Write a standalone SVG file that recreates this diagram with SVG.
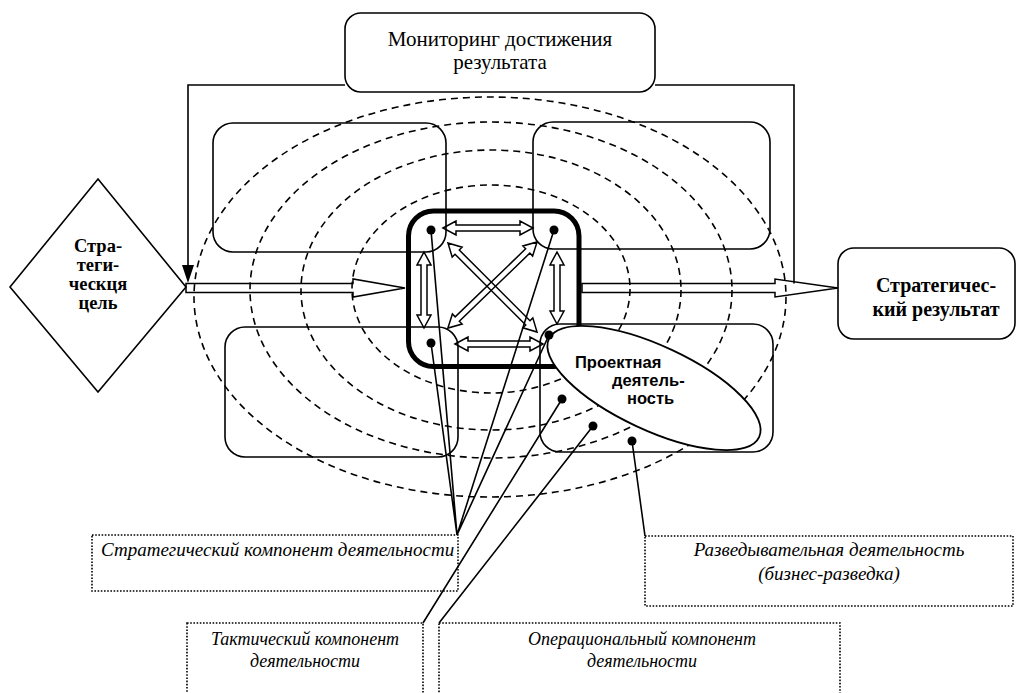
<svg xmlns="http://www.w3.org/2000/svg" width="1019" height="693" viewBox="0 0 1019 693">
<style>
.box{fill:none;stroke:#000;stroke-width:1.6}
.wbox{fill:#fff;stroke:#000;stroke-width:1.6}
.dash{fill:none;stroke:#000;stroke-width:1.6;stroke-dasharray:7 5}
.dot{fill:none;stroke:#000;stroke-width:1.6;stroke-dasharray:1.6 1.6}
.ln{fill:none;stroke:#000;stroke-width:1.6}
.harrow{fill:none;stroke:#000;stroke-width:1.5;stroke-linejoin:miter}
.pt{fill:#000}
.serif{font-family:'Liberation Serif','Times New Roman',serif;fill:#000}
.b{font-weight:bold}
.i{font-style:italic}
.sans{font-family:'Liberation Sans',Arial,sans-serif;font-weight:bold;fill:#000}
</style>
<rect width="1019" height="693" fill="#fff"/>

<g id="rings">
<ellipse class="dash" cx="490" cy="297" rx="296" ry="200"/>
<ellipse class="dash" cx="491" cy="290" rx="241" ry="168"/>
<ellipse class="dash" cx="491" cy="290" rx="190" ry="140"/>
<ellipse class="dash" cx="491" cy="289" rx="139" ry="104"/>
</g>

<g id="quadrants">
<rect class="box" x="213" y="123" width="233" height="129" rx="20"/>
<rect class="box" x="533" y="122" width="237" height="127" rx="20"/>
<rect class="box" x="225" y="327" width="233" height="130" rx="20"/>
<rect class="box" x="540" y="324" width="233" height="128" rx="20"/>
</g>

<g id="core">
<rect x="408.5" y="211" width="170.5" height="155.5" rx="25" fill="none" stroke="#000" stroke-width="5"/>
</g>

<g id="monitoring">
<rect class="wbox" x="345" y="13" width="310" height="79" rx="16"/>
<text class="serif" x="500" y="46" font-size="21" text-anchor="middle">Мониторинг достижения</text>
<text class="serif" x="500" y="69" font-size="21" text-anchor="middle">результата</text>
</g>

<g id="goal">
<polygon class="wbox" points="10,287 98,179 186,287 98,392"/>
<text class="serif b" font-size="18.5" text-anchor="middle"><tspan x="98" y="252">Стра-</tspan><tspan x="98" y="271">теги-</tspan><tspan x="98" y="290">ческця</tspan><tspan x="98" y="309">цель</tspan></text>
</g>

<g id="result">
<rect class="wbox" x="838" y="248" width="177" height="91" rx="16"/>
<text class="serif b" font-size="20" text-anchor="middle"><tspan x="936" y="292">Стратегичес-</tspan><tspan x="936" y="316">кий результат</tspan></text>
</g>

<g id="project">
<ellipse cx="654" cy="388" rx="116" ry="42" transform="rotate(25 654 388)" fill="#fff" stroke="#000" stroke-width="1.8"/>
<text class="sans" font-size="16.5"><tspan x="575" y="368">Проектная</tspan><tspan x="612" y="386">деятель-</tspan><tspan x="627" y="404">ность</tspan></text>
</g>

<g id="label-strategic">
<rect class="dot" x="92" y="535" width="366" height="56"/>
<text class="serif i" x="101" y="556" font-size="19">Стратегический компонент деятельности</text>
</g>
<g id="label-tactical">
<rect class="dot" x="187" y="623" width="236" height="80"/>
<text class="serif i" font-size="18" text-anchor="middle"><tspan x="305" y="645">Тактический компонент</tspan><tspan x="305" y="667">деятельности</tspan></text>
</g>
<g id="label-operational">
<rect class="dot" x="439" y="623" width="401" height="80"/>
<text class="serif i" font-size="18" text-anchor="middle"><tspan x="642" y="645">Операциональный компонент</tspan><tspan x="642" y="667">деятельности</tspan></text>
</g>
<g id="label-intel">
<rect class="dot" x="645" y="536" width="368" height="70"/>
<text class="serif i" font-size="19" text-anchor="middle"><tspan x="829" y="556">Разведывательная деятельность</tspan><tspan x="829" y="580">(бизнес-разведка)</tspan></text>
</g>

<g id="connectors">
<path class="ln" d="M345,85 H188 V266"/>
<polygon class="pt" points="182,265 194,265 188,283"/>
<path class="ln" d="M655,85 H794 V283.5"/>
<polygon class="harrow" points="186,283.5 353,283.5 353,279 405,288 353,297 353,292.5 186,292.5"/>
<polygon class="harrow" points="582,283.5 775,283.5 775,279 838,288 775,297 775,292.5 582,292.5"/>
<polygon class="harrow" transform="translate(488,228)" points="-45,0 -32,-7 -32,-3 32,-3 32,-7 45,0 32,7 32,3 -32,3 -32,7"/>
<polygon class="harrow" transform="translate(499,344)" points="-44,0 -31,-7 -31,-3 31,-3 31,-7 44,0 31,7 31,3 -31,3 -31,7"/>
<polygon class="harrow" transform="translate(424,290) rotate(90)" points="-38,0 -25,-7 -25,-3 25,-3 25,-7 38,0 25,7 25,3 -25,3 -25,7"/>
<polygon class="harrow" transform="translate(557,288) rotate(90)" points="-36,0 -23,-7 -23,-3 23,-3 23,-7 36,0 23,7 23,3 -23,3 -23,7"/>
<polygon class="harrow" transform="translate(492.5,287.5) rotate(45)" points="-63,0 -50,-7 -50,-3 50,-3 50,-7 63,0 50,7 50,3 -50,3 -50,7"/>
<polygon class="harrow" transform="translate(492.5,285) rotate(-44)" points="-62,0 -49,-7 -49,-3 49,-3 49,-7 62,0 49,7 49,3 -49,3 -49,7"/>
<path class="ln" d="M431,230 L457,535 M554,230 L457,535 M431,343 L457,535 M549,335 L457,535"/>
<path class="ln" d="M562,399 L423,623 M593,426 L439,623 M632,441 L645,536"/>
<circle class="pt" cx="431" cy="230" r="4.5"/>
<circle class="pt" cx="554" cy="230" r="4.5"/>
<circle class="pt" cx="431" cy="343" r="4.5"/>
<circle class="pt" cx="549" cy="335" r="4.5"/>
<circle class="pt" cx="562" cy="399" r="4.5"/>
<circle class="pt" cx="593" cy="426" r="4.5"/>
<circle class="pt" cx="632" cy="441" r="4.5"/>
</g>
</svg>
